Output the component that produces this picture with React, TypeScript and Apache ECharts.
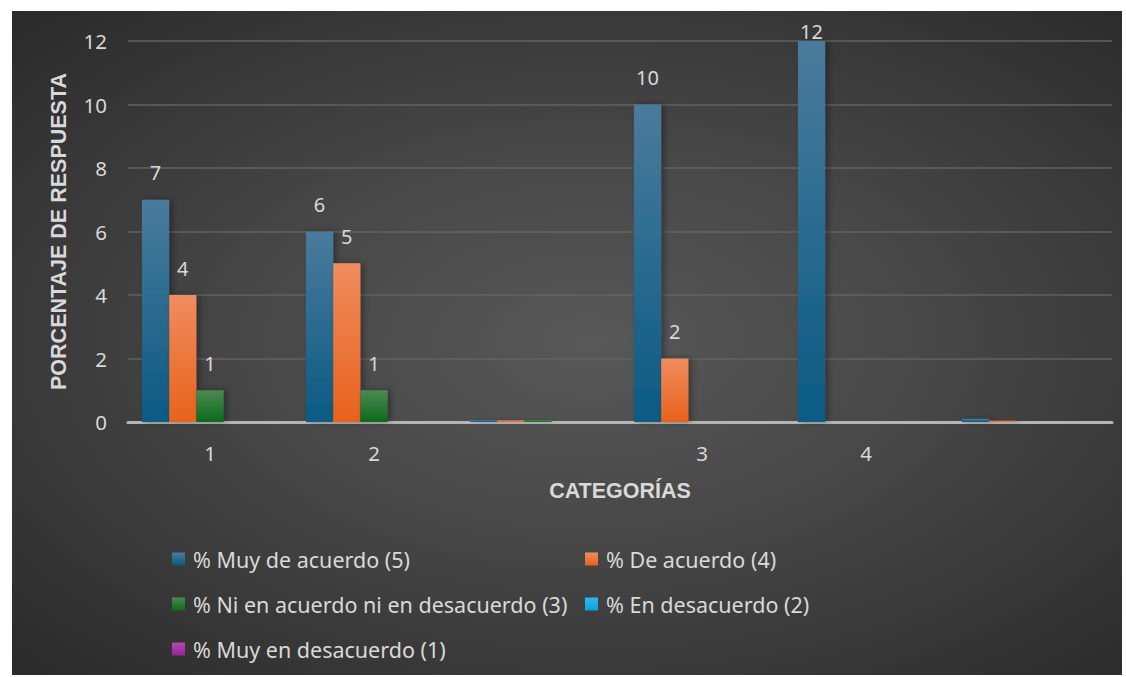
import React, { useEffect, useRef } from "react";
import * as echarts from "echarts";

const categories = ["1", "2", "", "3", "4", ""];
const seriesNames = [
  "% Muy de acuerdo (5)",
  "% De acuerdo (4)",
  "% Ni en acuerdo ni en desacuerdo (3)",
  "% En desacuerdo (2)",
  "% Muy en desacuerdo (1)",
];
const muyDeAcuerdo = [7, 6, 0.06, 10, 12, 0.1];
const deAcuerdo = [4, 5, 0.05, 2, 0, 0.04];
const niAcuerdo = [1, 1, 0.05, 0, 0, 0];
const enDesacuerdo = [0, 0, 0, 0, 0, 0];
const muyEnDesacuerdo = [0, 0, 0, 0, 0, 0];
const yTicks = [0, 2, 4, 6, 8, 10, 12];

const colorStops = [
  ["#4a7b9c", "#0b5a84"],
  ["#f08c5e", "#e8621c"],
  ["#4b8a52", "#0c6a1a"],
  ["#35b6ea", "#0aa2dd"],
  ["#b04ab0", "#9a2299"],
];

// legend slot for each series: [left, top]
const legendSlots = [
  [160, 537],
  [573, 537],
  [160, 582],
  [573, 582],
  [160, 627],
];

export default function App() {
  const ref = useRef<HTMLDivElement>(null);
  useEffect(() => {
    if (!ref.current) return;
    const chart = echarts.init(ref.current, null, { renderer: "svg" });
    const values = [muyDeAcuerdo, deAcuerdo, niAcuerdo, enDesacuerdo, muyEnDesacuerdo];
    const font = "'Noto Sans', Roboto, sans-serif";
    const titleFont = "'Liberation Sans', Arial, sans-serif";
    const textColor = "#d9d9d9";
    const series = values.map((vals, i) => ({
      name: seriesNames[i],
      type: "bar",
      barGap: "0%",
      barCategoryGap: "17%",
      data: vals.map((v) =>
        v === yTicks[yTicks.length - 1]
          ? { value: v, label: { distance: 0 } }
          : v
      ),
      itemStyle: {
        color: new echarts.graphic.LinearGradient(0, 0, 0, 1, [
          { offset: 0, color: colorStops[i][0] },
          { offset: 1, color: colorStops[i][1] },
        ]),
        shadowColor: "rgba(0,0,0,0.35)",
        shadowBlur: 6,
        shadowOffsetX: 3,
      },
      label: {
        show: true,
        position: "top",
        distance: 17,
        color: textColor,
        fontSize: 20,
        fontFamily: font,
        formatter: (p: any) => (p.value >= 0.5 ? String(p.value) : ""),
      },
    }));
    chart.setOption({
      animation: false,
      textStyle: { fontFamily: font },
      grid: { left: 116, right: 10, top: 30, bottom: 253 },
      legend: seriesNames.map((n, i) => ({
        left: legendSlots[i][0],
        top: legendSlots[i][1],
        itemWidth: 13,
        itemHeight: 13,
        icon: "rect",
        padding: 0,
        data: [n],
        textStyle: { color: textColor, fontSize: 21.5, fontFamily: font, padding: [0, 0, 0, 3] },
      })),
      xAxis: {
        type: "category",
        data: categories,
        name: "CATEGORÍAS",
        nameLocation: "middle",
        nameGap: 58,
        nameTextStyle: { color: textColor, fontSize: 21.5, fontWeight: "bold", fontFamily: titleFont },
        axisLine: { lineStyle: { color: "#b5b5b5", width: 3 } },
        axisTick: { show: false },
        axisLabel: { color: textColor, fontSize: 20.5, margin: 20, fontFamily: font },
      },
      yAxis: {
        type: "value",
        min: yTicks[0],
        max: yTicks[yTicks.length - 1],
        interval: 2,
        name: "PORCENTAJE DE RESPUESTA",
        nameLocation: "middle",
        nameGap: 58,
        nameTextStyle: { color: textColor, fontSize: 21.5, fontWeight: "bold", fontFamily: titleFont },
        axisLine: { show: false },
        axisTick: { show: false },
        axisLabel: { color: textColor, fontSize: 20.5, margin: 21, fontFamily: font },
        splitLine: { lineStyle: { color: "#626262", width: 1.5 } },
      },
      series,
    });
    return () => chart.dispose();
  }, []);
  return (
    <div
      ref={ref}
      style={{
        position: "absolute",
        left: 12,
        top: 11,
        width: 1110,
        height: 664,
        background:
          "radial-gradient(ellipse farthest-corner at 52% 50%, #585858 0%, #484848 40%, #2a2a2a 100%)",
      }}
    />
  );
}
